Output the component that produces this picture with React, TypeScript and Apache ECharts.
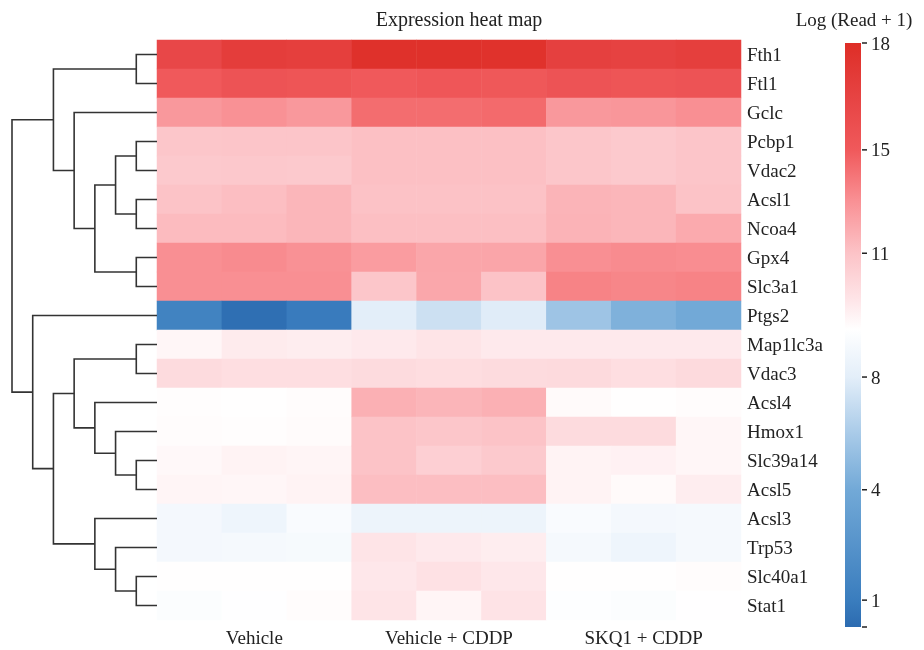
import React, { useEffect, useRef } from 'react';
import * as echarts from 'echarts';

const genes = ['Fth1', 'Ftl1', 'Gclc', 'Pcbp1', 'Vdac2', 'Acsl1', 'Ncoa4', 'Gpx4', 'Slc3a1', 'Ptgs2', 'Map1lc3a', 'Vdac3', 'Acsl4', 'Hmox1', 'Slc39a14', 'Acsl5', 'Acsl3', 'Trp53', 'Slc40a1', 'Stat1'];
const groups = ['Vehicle', 'Vehicle + CDDP', 'SKQ1 + CDDP'];
const replicates = 3;

// Log (Read + 1), three replicates per gene
const vehicleValues = [
  [16.2, 16.9, 16.8], [15.0, 15.4, 15.3], [12.7, 13.0, 12.7], [10.9, 10.95, 10.95], [10.8, 10.85, 10.8],
  [11.0, 11.2, 11.5], [11.3, 11.3, 11.5], [13.05, 13.2, 13.0], [13.05, 13.05, 13.05], [1.4, 0.2, 0.9],
  [9.4, 9.7, 9.65], [10.2, 10.1, 10.1], [9.22, 9.17, 9.25], [9.25, 9.22, 9.27], [9.35, 9.5, 9.45],
  [9.45, 9.4, 9.5], [8.7, 8.45, 8.9], [8.7, 8.75, 8.8], [9.17, 9.17, 9.17], [9.0, 9.1, 9.25],
];
const cddpValues = [
  [17.8, 17.8, 17.7], [15.0, 15.2, 15.1], [14.3, 14.3, 14.4], [11.1, 11.1, 11.1], [11.1, 11.1, 11.1],
  [11.05, 11.05, 11.05], [11.15, 11.15, 11.15], [12.55, 12.15, 12.2], [10.9, 12.1, 11.0], [8.0, 7.2, 7.9],
  [9.75, 9.9, 9.75], [10.2, 10.15, 10.2], [11.75, 11.55, 11.75], [11.0, 10.9, 11.0], [11.0, 10.6, 10.8],
  [11.2, 11.2, 11.2], [8.4, 8.4, 8.4], [9.9, 9.75, 9.65], [9.8, 10.0, 9.8], [9.9, 9.45, 9.95],
];
const skq1Values = [
  [16.7, 16.6, 16.8], [15.4, 15.3, 15.4], [12.7, 12.8, 13.05], [10.9, 10.8, 10.95], [10.9, 10.8, 10.95],
  [11.6, 11.5, 11.0], [11.65, 11.5, 12.0], [13.05, 13.2, 13.15], [13.5, 13.4, 13.5], [5.6, 4.45, 4.0],
  [9.75, 9.75, 9.75], [10.25, 10.1, 10.25], [9.3, 9.17, 9.25], [10.2, 10.2, 9.4], [9.5, 9.55, 9.4],
  [9.5, 9.3, 9.65], [8.9, 8.7, 8.75], [8.75, 8.45, 8.75], [9.17, 9.17, 9.25], [9.05, 9.0, 9.15],
];

// Hierarchical clustering of genes (leaf ids 0..19, merged clusters numbered from 20)
const mergeLeft = [0, 3, 5, 21, 7, 23, 2, 20, 10, 14, 13, 12, 28, 18, 17, 16, 32, 9, 27];
const mergeRight = [1, 4, 6, 22, 8, 24, 25, 26, 11, 15, 29, 30, 31, 19, 33, 34, 35, 36, 37];
const mergeHeight = [1, 1, 1, 2, 1, 3, 4, 5, 1, 1, 2, 3, 4, 1, 2, 3, 5, 6, 7];

// Colour bar
const barTickValues = [0, 1, 4, 8, 11, 15, 18];
const barTickLabels = ['', '1', '4', '8', '11', '15', '18'];
const barTickFractions = [0, 0.046, 0.235, 0.428, 0.64, 0.817, 1];
const rampFractions = [0, 0.046, 0.235, 0.33, 0.428, 0.51, 0.56, 0.64, 0.73, 0.817, 0.9, 1];
const rampColors = ['#2c6bb0', '#3a7dbe', '#72a9d7', '#a8cae8', '#e3eef9', '#ffffff', '#fee5e8', '#fcc3c7', '#f99094', '#f0595b', '#e74545', '#de2e27'];

const FONT = 'Liberation Serif, DejaVu Serif, serif';

function valueToFraction(v: number): number {
  for (let i = 1; i < barTickValues.length; i++) {
    if (v <= barTickValues[i]) {
      const a = barTickValues[i - 1], b = barTickValues[i];
      return barTickFractions[i - 1] + ((v - a) / (b - a)) * (barTickFractions[i] - barTickFractions[i - 1]);
    }
  }
  return 1;
}
function colourAt(f: number): string {
  for (let i = 1; i < rampFractions.length; i++) {
    if (f <= rampFractions[i]) {
      const t = (f - rampFractions[i - 1]) / (rampFractions[i] - rampFractions[i - 1]);
      return echarts.color.lerp(t, [rampColors[i - 1], rampColors[i]]) as string;
    }
  }
  return rampColors[rampColors.length - 1];
}

export default function App() {
  const ref = useRef<HTMLDivElement>(null);
  useEffect(() => {
    if (!ref.current) return;
    const chart = echarts.init(ref.current, null, { renderer: 'svg' });

    const columns: string[] = [];
    groups.forEach((g) => { for (let r = 0; r < replicates; r++) columns.push(g + ' ' + (r + 1)); });
    const groupData = [vehicleValues, cddpValues, skq1Values];
    const heat: number[][] = [];
    groupData.forEach((gv, gi) => {
      gv.forEach((row, ri) => row.forEach((v, k) => heat.push([gi * replicates + k, ri, v])));
    });

    const nodeY: number[] = genes.map((_, i) => i);
    const nodeH: number[] = genes.map(() => 0);
    const links: any[] = [];
    mergeLeft.forEach((l, k) => {
      const r = mergeRight[k];
      const h = mergeHeight[k];
      links.push({ coords: [[nodeH[l], nodeY[l]], [h, nodeY[l]], [h, nodeY[r]], [nodeH[r], nodeY[r]]] });
      nodeY.push((nodeY[l] + nodeY[r]) / 2);
      nodeH.push(h);
    });

    const vmColors: string[] = [];
    for (let i = 0; i <= 180; i++) vmColors.push(colourAt(valueToFraction(i / 10)));

    const barX = 845, barTop = 43, barH = 584, barW = 16;
    const graphics: any[] = [
      {
        type: 'rect', shape: { x: barX, y: barTop, width: barW, height: barH },
        style: {
          fill: {
            type: 'linear', x: 0, y: 1, x2: 0, y2: 0,
            colorStops: rampFractions.map((f, i) => ({ offset: f, color: rampColors[i] })),
          },
        },
      },
      { type: 'text', x: 854, y: 19, style: { text: 'Log (Read + 1)', fontSize: 19, fontFamily: FONT, fill: '#222', align: 'center', verticalAlign: 'middle' } },
      { type: 'text', x: 459, y: 19, style: { text: 'Expression heat map', fontSize: 20, fontFamily: FONT, fill: '#222', align: 'center', verticalAlign: 'middle' } },
    ];
    barTickFractions.forEach((f, i) => {
      const y = barTop + barH - f * barH;
      graphics.push({ type: 'line', shape: { x1: barX + barW + 1, y1: y, x2: barX + barW + 6, y2: y }, style: { stroke: '#222', lineWidth: 1.5 } });
      if (barTickLabels[i]) {
        graphics.push({ type: 'text', x: barX + barW + 10, y, style: { text: barTickLabels[i], fontSize: 19, fontFamily: FONT, fill: '#222', align: 'left', verticalAlign: 'middle' } });
      }
    });

    chart.setOption({
      animation: false,
      textStyle: { fontFamily: FONT },
      grid: [
        { left: 157, right: 183, top: 40, bottom: 30 },
        { left: 12, right: 767, top: 40, bottom: 30 },
      ],
      xAxis: [
        {
          type: 'category', data: columns, gridIndex: 0,
          axisLine: { show: false }, axisTick: { show: false }, splitLine: { show: false },
          axisLabel: {
            interval: 0, margin: 8, color: '#222', fontFamily: FONT, fontSize: 19,
            formatter: (_v: string, idx: number) => (idx % replicates === 1 ? groups[Math.floor(idx / replicates)] : ''),
          },
        },
        { type: 'value', gridIndex: 1, min: 0, max: 7, inverse: true, show: false },
      ],
      yAxis: [
        {
          type: 'category', data: genes, gridIndex: 0, inverse: true, position: 'right',
          axisLine: { show: false }, axisTick: { show: false }, splitLine: { show: false },
          axisLabel: { margin: 6, color: '#222', fontFamily: FONT, fontSize: 19 },
        },
        { type: 'value', gridIndex: 1, min: -0.5, max: genes.length - 0.5, inverse: true, show: false },
      ],
      visualMap: {
        type: 'continuous', show: false, min: 0, max: 18, dimension: 2, seriesIndex: 0,
        inRange: { color: vmColors },
      },
      series: [
        { type: 'heatmap', xAxisIndex: 0, yAxisIndex: 0, data: heat, itemStyle: { borderWidth: 0 }, emphasis: { disabled: true } },
        {
          type: 'lines', coordinateSystem: 'cartesian2d', xAxisIndex: 1, yAxisIndex: 1, polyline: true,
          data: links, lineStyle: { color: '#333', width: 1.6, opacity: 1 }, silent: true,
        },
      ],
      graphic: graphics,
    });
    return () => chart.dispose();
  }, []);
  return <div ref={ref} style={{ position: 'fixed', left: 0, top: 0, width: 924, height: 650 }} />;
}
